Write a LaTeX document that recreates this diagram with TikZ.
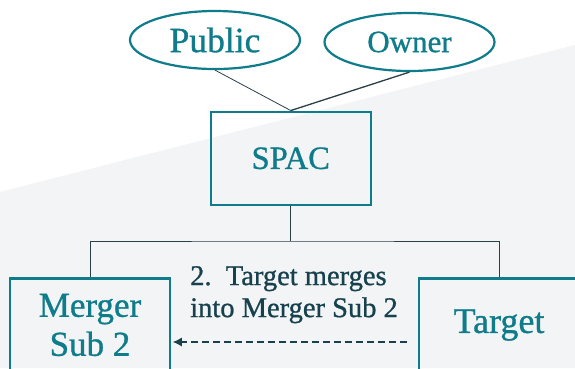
\documentclass[tikz,border=0pt]{standalone}
\usepackage{fontspec}
\setmainfont[FakeBold=0.9]{Liberation Serif}
\usetikzlibrary{shapes.geometric, arrows.meta}
\definecolor{spacteal}{HTML}{0E7C8A}
\definecolor{labeldark}{HTML}{17414D}
\definecolor{linkgray}{HTML}{2B3F48}
\definecolor{bggray}{HTML}{F3F4F6}
\tikzset{
  party/.style={ellipse, draw=spacteal, line width=2.2pt, minimum width=170pt,
    minimum height=58pt, text=spacteal, inner sep=0pt},
  entity/.style={rectangle, draw=spacteal, line width=2.5pt, minimum width=160pt,
    minimum height=93pt, text=spacteal, align=center, inner sep=0pt},
  link/.style={draw=linkgray, line width=0.8pt},
}

\begin{document}
\begin{tikzpicture}[x=1pt,y=-1pt]
	\useasboundingbox (0,0) rectangle (575,368);
	\fill[white] (0,0) rectangle (575,368);
	\fill[bggray] (0,192) -- (575,45) -- (575,368) -- (0,368) -- cycle;
	
	\node[party, font=\fontsize{35.5}{40}\selectfont] (public) at (215,40) {Public};
	\node[party, font=\fontsize{31}{36}\selectfont] (owner) at (409.5,42) {Owner};
	
	\node[entity, font=\fontsize{32.5}{38}\selectfont] (spac) at (290.75,158.3) {SPAC};
	\node[entity, font=\fontsize{35}{39}\selectfont] (merger) at (90,325) {Merger\\Sub 2};
	\node[entity, font=\fontsize{36}{40}\selectfont] (target) at (499,325) {Target};
	
	\draw[link] (public.south) -- (spac.north);
	\draw[link, line width=1.3pt] (owner.south) -- (spac.north);
	
	\coordinate (bar) at (290.75,241);
	\draw[link] (spac.south) -- (bar);
	\draw[link] (merger.north) |- (bar) -| (target.north);
	
	\node[anchor=north west, align=left, inner sep=0pt, text=labeldark,
	font=\fontsize{28.5}{32}\selectfont] (step) at (190,266) {2.\ \ Target merges\\into Merger Sub 2};
	\draw[labeldark, line width=1.3pt, dash pattern=on 6.5pt off 4.5pt,
	-{Latex[length=9pt,width=9pt]}, shorten >=1.5pt]
	([xshift=-11pt,yshift=-17pt]target.west) -- ([yshift=-17pt]merger.east);
	
\end{tikzpicture}
\end{document}
